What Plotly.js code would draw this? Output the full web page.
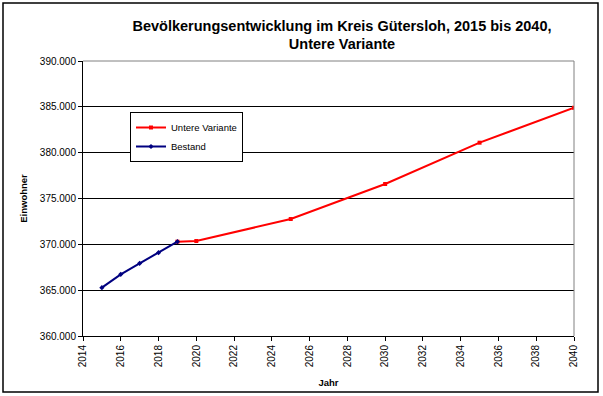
<!DOCTYPE html>
<html>
<head>
<meta charset="utf-8">
<script src="https://cdn.plot.ly/plotly-3.0.1.min.js"></script>
<style>html,body{margin:0;padding:0;background:#fff;}#chart{width:603px;height:396px;}</style>
</head>
<body>
<div id="chart"></div>
<script>
const bestandYears = [2015, 2016, 2017, 2018, 2019];
const bestandValues = [365270, 366730, 367930, 369090, 370290];
const varianteYears = [2019, 2020, 2025, 2030, 2035, 2040];
const varianteValues = [370290, 370360, 372760, 376580, 381090, 384900];
const titleText = 'Bevölkerungsentwicklung im Kreis Gütersloh, 2015 bis 2040,<br>Untere Variante';

const L = 83, R = 29, T = 61, B = 60, W = 603, H = 396;
const pw = W - L - R, ph = H - T - B;
const px = x => (x - L) / pw;
const py = y => (H - B - y) / ph;

const traces = [
  {x: varianteYears, y: varianteValues, name: 'Untere Variante', type: 'scatter', mode: 'lines+markers',
   line: {color: '#ff0000', width: 2}, marker: {color: '#ff0000', size: 4, symbol: 'square'}},
  {x: bestandYears, y: bestandValues, name: 'Bestand', type: 'scatter', mode: 'lines+markers',
   line: {color: '#000080', width: 2}, marker: {color: '#000080', size: 4, symbol: 'diamond'}}
];

const layout = {
  width: W, height: H,
  margin: {l: L, r: R, t: T, b: B},
  paper_bgcolor: '#fff', plot_bgcolor: '#fff',
  separators: ',.',
  font: {family: 'Liberation Sans, Arial, sans-serif', size: 10, color: '#000'},
  title: {text: titleText, font: {size: 14.5, family: 'Liberation Sans, Arial, sans-serif', weight: 'bold', color: '#000'},
          xref: 'container', x: 342 / W, xanchor: 'center', yref: 'paper', y: 1 + (T - 53) / ph, yanchor: 'bottom'},
  showlegend: true,
  legend: {x: px(130), y: py(112), xanchor: 'left', yanchor: 'top', bgcolor: '#fff', bordercolor: '#000', borderwidth: 1,
           font: {size: 9.5}, itemwidth: 30, tracegroupgap: 0, traceorder: 'normal'},
  xaxis: {range: [2014, 2040], dtick: 2, tick0: 2014, tickangle: -90, showgrid: false, zeroline: false,
          showline: true, linecolor: '#000', linewidth: 1, ticks: 'outside', ticklen: 4, tickcolor: '#000',
          tickfont: {size: 10}, title: {text: 'Jahr', font: {size: 9.5, weight: 'bold'}, standoff: 13}},
  yaxis: {range: [360000, 390000], dtick: 5000, tickformat: ',d', showgrid: true, gridcolor: '#000', gridwidth: 1,
          zeroline: false, showline: true, linecolor: '#000', linewidth: 1, ticks: 'outside', ticklen: 4, tickcolor: '#000',
          tickfont: {size: 10}, title: {text: 'Einwohner', font: {size: 9.5, weight: 'bold'}, standoff: 10}},
  shapes: [
    {type: 'line', xref: 'paper', yref: 'paper', x0: 0, x1: 1, y0: 1, y1: 1, line: {color: '#808080', width: 1}},
    {type: 'line', xref: 'paper', yref: 'paper', x0: 1, x1: 1, y0: 0, y1: 1, line: {color: '#808080', width: 1}},
    {type: 'rect', xref: 'paper', yref: 'paper', x0: px(3), x1: px(598), y0: py(3), y1: py(392), line: {color: '#000', width: 1.5}, layer: 'below'}
  ]
};

Plotly.newPlot('chart', traces, layout, {displayModeBar: false, staticPlot: true});
</script>
</body>
</html>
